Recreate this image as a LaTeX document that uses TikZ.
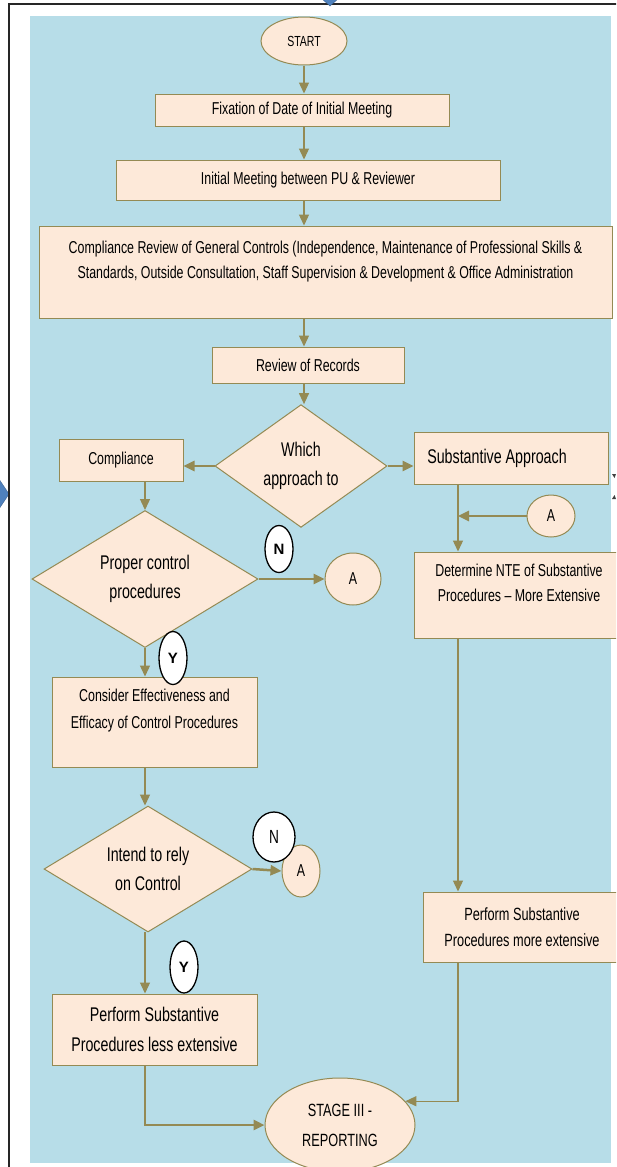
\documentclass[tikz,border=0pt]{standalone}
\usepackage{fontspec}
\setmainfont{Liberation Sans}[FakeStretch=0.72]
\newfontfamily\wideface{Liberation Sans}
\usetikzlibrary{shapes.geometric, arrows.meta}

\definecolor{skyback}{HTML}{B7DDE8}
\definecolor{peach}{HTML}{FDE9D9}
\definecolor{olivine}{HTML}{948A54}
\definecolor{chevblue}{HTML}{4F81BD}
\definecolor{chevline}{HTML}{385D8A}

\newcommand{\txt}{\fontsize{17.2}{25}\selectfont}
\newcommand{\bigtxt}{\fontsize{19.8}{29}\selectfont}

\tikzset{
  procbox/.style={rectangle, draw=olivine, fill=peach, line width=1pt, align=center, inner sep=0pt, font=\txt},
  decision/.style={diamond, draw=olivine, fill=peach, line width=1pt, align=center, inner sep=0pt, font=\bigtxt},
  terminal/.style={ellipse, draw=olivine, fill=peach, line width=1pt, align=center, inner sep=0pt},
  yesno/.style={ellipse, draw=black, fill=white, line width=1.3pt, inner sep=0pt},
  link/.style={draw=olivine, line width=1.3pt, -{Triangle[length=11pt,width=10pt]}},
  boldlink/.style={link, line width=2.5pt},
}

\begin{document}
\begin{tikzpicture}[x=1pt, y=-1pt]
	\useasboundingbox (0,0) rectangle (616,1167);
	\clip (0,0) rectangle (616,1167);

	%background and frame
	\fill[skyback] (30,16) rectangle (611,1163);
	\filldraw[fill=chevblue, draw=chevline] (-3,476) -- (9,494) -- (-3,512) -- cycle;
	\draw[black!85, line width=2pt] (9,1170) -- (9,4) -- (620,4);
	\filldraw[fill=chevblue, draw=chevline] (321,-2) -- (330,6) -- (339,-2) -- cycle;
	\fill[black!75] (612,474) -- (616,474) -- (614.5,478) -- cycle;
	\fill[black!75] (612,499) -- (616,499) -- (614.5,495) -- cycle;

	%columns
	\coordinate (mcol) at (304,0);
	\coordinate (lcol) at (145,0);
	\coordinate (rcol) at (458,0);

	%main column
	\node[terminal, minimum width=86, minimum height=48, font=\fontsize{14.6}{16}\selectfont] (start) at (304,41) {START};
	\node[procbox, minimum width=294, minimum height=32] (fix) at (302,110) {Fixation of Date of Initial Meeting};
	\node[procbox, minimum width=384, minimum height=40] (meet) at (308,180) {Initial Meeting between PU \& Reviewer};
	\node[procbox, minimum width=573, minimum height=92] (gen) at (325.5,272)
	{Compliance Review of General Controls (Independence, Maintenance of Professional Skills \&\\
	Standards, Outside Consultation, Staff Supervision \& Development \& Office Administration\\ \mbox{}};
	\node[procbox, minimum width=192, minimum height=36] (rev) at (308,365) {Review of Records};
	\node[decision, minimum width=172, minimum height=116] (which) at (301,466) {Which\\approach to};

	%right branch
	\node[procbox, minimum width=194, minimum height=52, font=\bigtxt] (subst) at (511,458) {Substantive Approach\hspace*{28pt}};
	\node[terminal, minimum width=48, minimum height=42, font=\txt] (a1) at (551,516) {A};
	\node[procbox, minimum width=210, minimum height=86] (det) at (519,595)
	{Determine NTE of Substantive\\Procedures -- More Extensive\\ \mbox{}};
	\node[procbox, minimum width=198, minimum height=70, font=\fontsize{17.7}{26}\selectfont] (pr) at (522,927)
	{Perform Substantive\\Procedures more extensive};

	%left branch
	\node[procbox, minimum width=124, minimum height=42] (comp) at (121,460) {Compliance};
	\node[decision, minimum width=226, minimum height=107] (proper) at (145,579) {Proper control\\procedures};
	\node[yesno, minimum width=28, minimum height=47, font=\wideface\bfseries\fontsize{15}{15}\selectfont] (n1) at (279,549) {N};
	\node[terminal, minimum width=56, minimum height=52, font=\txt] (a2) at (353,579) {A};
	\node[procbox, minimum width=205, minimum height=90, font=\fontsize{17.2}{27}\selectfont] (cons) at (154.5,722)
	{Consider Effectiveness and\\Efficacy of Control Procedures\\ \mbox{}};
	\node[yesno, minimum width=28, minimum height=53, font=\wideface\bfseries\fontsize{15}{15}\selectfont] (y1) at (173,658) {Y};
	\node[decision, minimum width=208, minimum height=115] (intend) at (148,869) {Intend to rely\\on Control};
	\node[terminal, minimum width=38, minimum height=52, font=\txt] (a3) at (301,871) {A};
	\node[yesno, minimum width=42, minimum height=50, font=\fontsize{19}{19}\selectfont] (n2) at (274,837) {N};
	\node[procbox, minimum width=205, minimum height=71, font=\fontsize{19.8}{30}\selectfont] (pl) at (154.5,1029.5)
	{Perform Substantive\\Procedures less extensive};
	\node[yesno, minimum width=28, minimum height=52, font=\wideface\bfseries\fontsize{15}{15}\selectfont] (y2) at (184,967) {Y};

	\node[terminal, minimum width=150, minimum height=94, font=\fontsize{17.7}{30}\selectfont] (stage) at (340,1125) {STAGE III -\\REPORTING};

	%arrows main column
	\draw[link] (start.south -| mcol) -- (fix.north -| mcol);
	\draw[link] (fix.south -| mcol) -- (meet.north -| mcol);
	\draw[link] (meet.south -| mcol) -- (gen.north -| mcol);
	\draw[link] (gen.south -| mcol) -- (rev.north -| mcol);
	\draw[link] (rev.south -| mcol) -- (which.north -| mcol);
	\draw[boldlink] (which.west) -- (which.west -| comp.east);
	\draw[boldlink] (which.east) -- (which.east -| subst.west);

	%arrows right
	\draw[link] (subst.south -| rcol) -- (det.north -| rcol);
	\draw[boldlink] (a1.west) -- (a1.west -| rcol);
	\draw[link] (det.south -| rcol) -- (pr.north -| rcol);
	\draw[link] (pr.south -| rcol) |- (stage.20);

	%arrows left
	\draw[link] (comp.south -| lcol) -- (proper.north);
	\draw[boldlink] (proper.east) -- (a2.west);
	\draw[link] (proper.south) -- (cons.north -| proper.south);
	\draw[link] (cons.south -| lcol) -- (intend.north -| lcol);
	\draw[boldlink] (intend.east) -- (a3.west);
	\draw[link] (intend.south -| lcol) -- (pl.north -| lcol);
	\draw[boldlink] (pl.south -| lcol) |- (stage.west);
\end{tikzpicture}
\end{document}
